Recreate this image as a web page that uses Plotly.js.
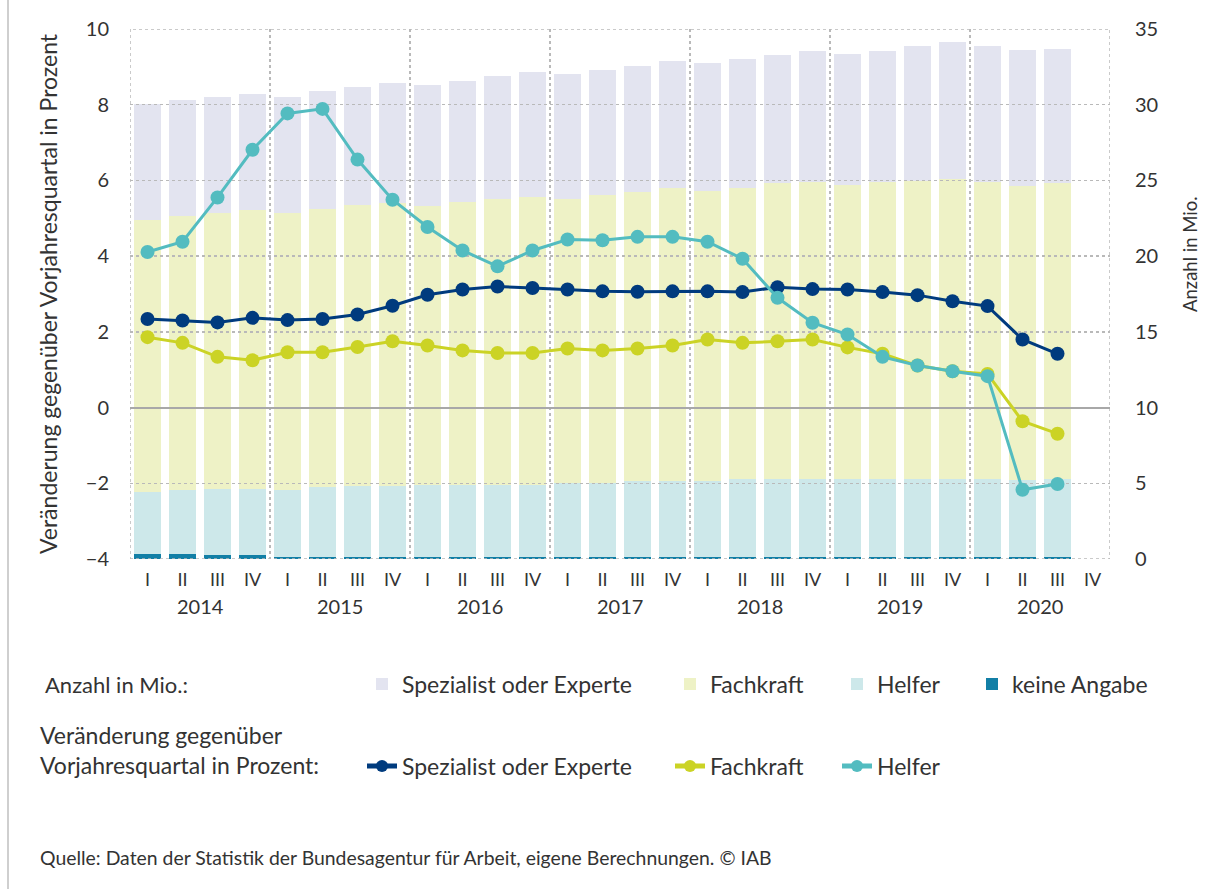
<!DOCTYPE html>
<html>
<head>
<meta charset="utf-8">
<script src="https://cdn.plot.ly/plotly-3.0.1.min.js"></script>
<style>html,body{margin:0;padding:0;background:#fff;}#chart{width:1222px;height:889px;}</style>
</head>
<body>
<div id="chart"></div>
<script>
// ---- data ----
const years = ['2014', '2015', '2016', '2017', '2018', '2019', '2020'];
const quarters = ['I', 'II', 'III', 'IV'];

// Anzahl in Mio. (stacked bars), 2014 I .. 2020 III
const anzKeineAngabe = [0.35, 0.35, 0.25, 0.25, 0.12, 0.12, 0.12, 0.12, 0.12, 0.12, 0.12, 0.12, 0.12, 0.12, 0.12, 0.12, 0.12, 0.12, 0.12, 0.12, 0.12, 0.12, 0.12, 0.12, 0.12, 0.12, 0.12];
const anzHelfer = [4.09, 4.21, 4.39, 4.39, 4.44, 4.66, 4.70, 4.72, 4.74, 4.76, 4.76, 4.76, 4.88, 4.93, 5.03, 5.03, 5.03, 5.18, 5.18, 5.18, 5.18, 5.18, 5.18, 5.18, 5.18, 5.08, 5.18];
const anzFachkraft = [17.95, 18.11, 18.19, 18.39, 18.31, 18.33, 18.56, 18.69, 18.45, 18.70, 18.87, 19.05, 18.77, 19.01, 19.07, 19.37, 19.15, 19.22, 19.51, 19.62, 19.40, 19.58, 19.66, 19.81, 19.58, 19.43, 19.51];
const anzSpezialist = [7.64, 7.64, 7.70, 7.70, 7.66, 7.82, 7.81, 7.90, 7.97, 7.97, 8.12, 8.25, 8.23, 8.23, 8.34, 8.39, 8.48, 8.50, 8.49, 8.65, 8.67, 8.69, 8.92, 9.01, 9.00, 8.96, 8.87];

// Veränderung gegenüber Vorjahresquartal in Prozent
const pctSpezialist = [2.34, 2.30, 2.25, 2.37, 2.31, 2.34, 2.46, 2.69, 2.98, 3.12, 3.20, 3.16, 3.12, 3.07, 3.06, 3.07, 3.07, 3.05, 3.18, 3.13, 3.12, 3.05, 2.97, 2.81, 2.68, 1.80, 1.42];
const pctFachkraft = [1.86, 1.71, 1.34, 1.25, 1.46, 1.46, 1.60, 1.75, 1.64, 1.51, 1.44, 1.44, 1.56, 1.51, 1.56, 1.64, 1.80, 1.71, 1.75, 1.80, 1.59, 1.42, 1.11, 0.96, 0.89, -0.36, -0.69];
const pctHelfer = [4.11, 4.38, 5.55, 6.81, 7.77, 7.89, 6.55, 5.49, 4.77, 4.15, 3.73, 4.15, 4.44, 4.42, 4.51, 4.51, 4.38, 3.93, 2.90, 2.24, 1.93, 1.34, 1.11, 0.96, 0.83, -2.17, -2.02];

const seriesNames = ['Spezialist oder Experte', 'Fachkraft', 'Helfer', 'keine Angabe'];
const legendTitleBars = 'Anzahl in Mio.:';
const legendTitleLines = 'Veränderung gegenüber<br>Vorjahresquartal in Prozent:';
const sourceText = 'Quelle: Daten der Statistik der Bundesagentur für Arbeit, eigene Berechnungen. © IAB';
const yTitleLeft = 'Veränderung gegenüber Vorjahresquartal in Prozent';
const yTitleRight = 'Anzahl in Mio.';

// ---- derived category table ----
const categories = [];
const catQuarter = [];
years.forEach(y => quarters.forEach(q => { categories.push(y + ' ' + q); catQuarter.push(q); }));
const nData = pctHelfer.length;
const barX = categories.slice(0, nData);
const lineX = barX.map(c => categories.indexOf(c));

// ---- styling ----
const FONT = 'Lato, "Source Sans Pro", "Noto Sans", sans-serif';
const TXT = '#333333';
const colBar = {spez: '#e3e4f0', fach: '#eef2c6', helf: '#cde8ea', ka: '#127fa6'};
const colLine = {spez: '#003b7e', fach: '#cbd325', helf: '#53bcc0'};
const GRID = '#b9b9b9';

const barTrace = (y, name, color, leg) => ({
  type: 'bar', x: barX, y: y, name: name, xaxis: 'x', yaxis: 'y',
  marker: {color: color, line: {width: 0}}, legend: leg, hoverinfo: 'skip'
});
const lineTrace = (y, name, color, leg) => ({
  type: 'scatter', mode: 'lines+markers', x: lineX, y: y, name: name, xaxis: 'x2', yaxis: 'y2',
  line: {color: color, width: 3}, marker: {color: color, size: 14}, legend: leg
});

const data = [
  barTrace(anzKeineAngabe, seriesNames[3], colBar.ka, 'legend4'),
  barTrace(anzHelfer, seriesNames[2], colBar.helf, 'legend3'),
  barTrace(anzFachkraft, seriesNames[1], colBar.fach, 'legend2'),
  barTrace(anzSpezialist, seriesNames[0], colBar.spez, 'legend'),
  lineTrace(pctSpezialist, seriesNames[0], colLine.spez, 'legend5'),
  lineTrace(pctFachkraft, seriesNames[1], colLine.fach, 'legend6'),
  lineTrace(pctHelfer, seriesNames[2], colLine.helf, 'legend7')
];

// layout geometry (pixels -> paper)
const W = 1222, H = 889, L = 130, R = 1110, T = 29, B = 559;
const px = x => (x - L) / (R - L);
const py = y => (B - y) / (B - T);

const yearAnnotations = years.map((yr, k) => ({
  x: 1.5 + 4 * k, xref: 'x2', y: py(606), yref: 'paper', text: yr, showarrow: false,
  xanchor: 'center', yanchor: 'middle', font: {family: FONT, size: 20, color: TXT}
}));

const boundaryVals = years.map((y, k) => -0.5 + 4 * k).concat([categories.length - 0.5]);

const legendAt = (textX, rowY, constant) => ({
  orientation: 'h', x: px(textX - 43), xanchor: 'left', y: py(rowY), yanchor: 'middle',
  font: {family: FONT, size: 23, color: TXT}, bgcolor: 'rgba(0,0,0,0)', borderwidth: 0,
  itemsizing: constant ? 'constant' : 'trace'
});

const layout = {
  width: W, height: H,
  margin: {l: L, r: W - R, t: T, b: H - B, pad: 0},
  paper_bgcolor: '#ffffff', plot_bgcolor: 'rgba(0,0,0,0)',
  font: {family: FONT, size: 18, color: TXT},
  bargap: 0.23, barmode: 'stack',
  showlegend: true,
  xaxis: {
    type: 'category', categoryorder: 'array', categoryarray: categories,
    range: [-0.5, categories.length - 0.5], domain: [0, 1], anchor: 'y',
    tickmode: 'array', tickvals: categories, ticktext: catQuarter,
    showgrid: false, zeroline: false, showline: false, ticks: '',
    ticklabelstandoff: 8, tickfont: {family: FONT, size: 18, color: TXT}
  },
  yaxis: {
    range: [0, 35], side: 'right', anchor: 'x', domain: [0, 1], dtick: 5, tick0: 0,
    showgrid: false, zeroline: false, showline: false, ticks: '',
    ticklabelstandoff: 24, tickfont: {family: FONT, size: 20, color: TXT}
  },
  xaxis2: {
    range: [-0.5, categories.length - 0.5], domain: [0, 1], anchor: 'y2',
    tickmode: 'array', tickvals: boundaryVals, showticklabels: false,
    showgrid: true, gridcolor: GRID, griddash: 'dot', gridwidth: 1.5,
    zeroline: false, showline: false, ticks: ''
  },
  yaxis2: {
    range: [-4, 10], side: 'left', anchor: 'x2', domain: [0, 1], dtick: 2, tick0: 0,
    showgrid: true, gridcolor: GRID, griddash: 'dot', gridwidth: 1.5,
    zeroline: true, zerolinecolor: '#a8a8a8', zerolinewidth: 2,
    showline: false, ticks: '',
    ticklabelstandoff: 20, tickfont: {family: FONT, size: 20, color: TXT},
    title: {text: yTitleLeft, font: {family: FONT, size: 23, color: TXT}, standoff: 21}
  },
  legend: legendAt(405, 684, false),
  legend2: legendAt(713, 684, false),
  legend3: legendAt(880, 684, false),
  legend4: legendAt(1015, 684, false),
  legend5: legendAt(405, 766, true),
  legend6: legendAt(713, 766, true),
  legend7: legendAt(880, 766, true),
  annotations: yearAnnotations.concat([
    {x: px(1190), y: py(254), xref: 'paper', yref: 'paper', text: yTitleRight, showarrow: false,
     textangle: -90, xanchor: 'center', yanchor: 'middle', font: {family: FONT, size: 18.5, color: TXT}},
    {x: px(43), y: py(684), xref: 'paper', yref: 'paper', text: legendTitleBars, showarrow: false,
     xanchor: 'left', yanchor: 'middle', font: {family: FONT, size: 22, color: TXT}},
    {x: px(38), y: py(750), xref: 'paper', yref: 'paper', text: legendTitleLines, showarrow: false,
     xanchor: 'left', yanchor: 'middle', align: 'left', font: {family: FONT, size: 23, color: TXT}},
    {x: px(38), y: py(857), xref: 'paper', yref: 'paper', text: sourceText, showarrow: false,
     xanchor: 'left', yanchor: 'middle', font: {family: FONT, size: 19.4, color: TXT}}
  ]),
  shapes: [
    {type: 'line', xref: 'paper', yref: 'paper', x0: px(8), x1: px(8), y0: py(0), y1: py(H),
     line: {color: '#cfcfcf', width: 2}},
    {type: 'rect', xref: 'x2', yref: 'y2', x0: -0.5, x1: categories.length - 0.5, y0: -4, y1: 10,
     layer: 'below', line: {color: GRID, width: 1.5, dash: 'dot'}, fillcolor: 'rgba(0,0,0,0)'}
  ]
};

Plotly.newPlot('chart', data, layout, {displayModeBar: false, staticPlot: true});
</script>
</body>
</html>
